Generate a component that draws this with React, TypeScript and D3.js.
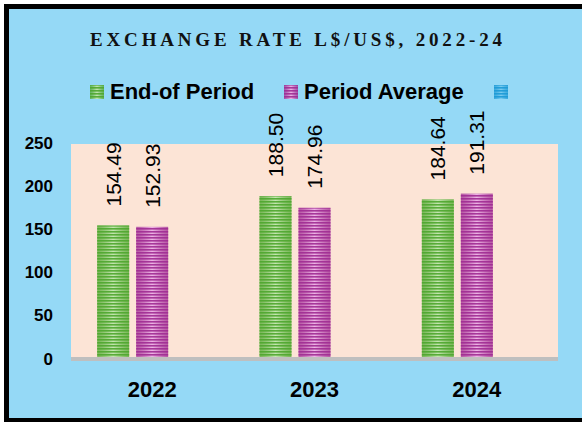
import React from 'react';
import * as d3 from 'd3';

const years = ['2022', '2023', '2024'];
const seriesNames = ['End-of Period', 'Period Average', ''];
const endOfPeriod = [154.49, 188.5, 184.64];
const periodAverage = [152.93, 174.96, 191.31];
const yTicks = [0, 50, 100, 150, 200, 250];

const W = 582;
const H = 422;

// plot area
const left = 71;
const right = 558;
const top = 143;
const bottom = 359;

const palette = [
  { dark: '#4ea72e', light: '#c4e6b0', id: 'g' },
  { dark: '#a02b93', light: '#eeb4e6', id: 'p' },
  { dark: '#1c9ad6', light: '#7ccdf0', id: 'b' },
];

function App() {
  const y = d3.scaleLinear().domain([0, 250]).range([bottom, top]);
  const x0 = d3.scaleBand().domain(years).range([left, right]);
  const x1 = d3
    .scaleBand()
    .domain(seriesNames.map((s, i) => String(i)))
    .range([0, x0.bandwidth()])
    .paddingInner(7 / 39)
    .paddingOuter(0.671);

  const series = [endOfPeriod, periodAverage];

  const sans = '"Liberation Sans", Arial, sans-serif';

  // legend positions
  const legend = [
    { sx: 90, tx: 110, label: seriesNames[0] },
    { sx: 284, tx: 304, label: seriesNames[1] },
    { sx: 494, tx: 0, label: seriesNames[2] },
  ];

  return (
    <div style={{ position: 'absolute', left: 0, top: 0 }}>
      <svg width={W} height={H} style={{ display: 'block' }}>
        <defs>
          {palette.map((c) => (
            <linearGradient key={c.id} id={'grad-' + c.id} x1="0" x2="1" y1="0" y2="0">
              <stop offset="0" stopColor={c.dark} stopOpacity={0.75} />
              <stop offset="0.5" stopColor={c.light} />
              <stop offset="1" stopColor={c.dark} stopOpacity={0.75} />
            </linearGradient>
          ))}
          {palette.map((c) => (
            <pattern
              key={c.id}
              id={'stripe-' + c.id}
              patternUnits="userSpaceOnUse"
              width={4}
              height={3}
            >
              <rect x={0} y={0} width={4} height={1.6} fill={c.dark} opacity={0.9} />
            </pattern>
          ))}
        </defs>

        {/* background + frame */}
        <rect x={0} y={0} width={W} height={H} fill="#fff" />
        <rect x={6.5} y={6.5} width={W + 20} height={414} fill="#95d9f6" stroke="#000" strokeWidth={5} />

        {/* title */}
        <text
          x={90}
          y={46}
          textLength={412}
          lengthAdjust="spacing"
          fontFamily='"Liberation Serif", "Times New Roman", serif'
          fontWeight="bold"
          fontSize={19}
          fill="#111"
        >
          EXCHANGE RATE L$/US$, 2022-24
        </text>

        {/* legend */}
        {legend.map((l, i) => (
          <g key={i}>
            <rect x={l.sx} y={85} width={14} height={14} fill={`url(#grad-${palette[i].id})`} />
            <rect x={l.sx} y={85} width={14} height={14} fill={`url(#stripe-${palette[i].id})`} />
            {l.label && (
              <text x={l.tx} y={99} fontFamily={sans} fontWeight="bold" fontSize={22} fill="#000">
                {l.label}
              </text>
            )}
          </g>
        ))}

        {/* plot area */}
        <rect x={left} y={y(250) + 1} width={right - left} height={y(0) - y(250) - 1} fill="#fce4d6" />
        <line x1={left} x2={right} y1={y(0)} y2={y(0)} stroke="#bfbfbf" strokeWidth={4} />

        {/* y axis labels */}
        {yTicks.map((t) => (
          <text
            key={t}
            x={53}
            y={y(t)}
            textAnchor="end"
            dominantBaseline="central"
            fontFamily={sans}
            fontWeight="bold"
            fontSize={17}
            fill="#000"
          >
            {t}
          </text>
        ))}

        {/* bars */}
        {years.map((yr, ci) => (
          <g key={yr} transform={`translate(${x0(yr)},0)`}>
            {series.map((vals, si) => {
              const bx = x1(String(si)) as number;
              const bw = x1.bandwidth();
              const v = vals[ci];
              const by = y(v);
              const bh = y(0) - 2 - by;
              return (
                <g key={si}>
                  <rect x={bx} y={by} width={bw} height={bh} fill={`url(#grad-${palette[si].id})`} />
                  <rect x={bx} y={by} width={bw} height={bh} fill={`url(#stripe-${palette[si].id})`} />
                  <text
                    transform={`translate(${bx + bw / 2},${by - 19}) rotate(-90)`}
                    dominantBaseline="central"
                    fontFamily={sans}
                    fontSize={21}
                    fill="#000"
                  >
                    {v.toFixed(2)}
                  </text>
                </g>
              );
            })}
            <text
              x={x0.bandwidth() / 2}
              y={397}
              textAnchor="middle"
              fontFamily={sans}
              fontWeight="bold"
              fontSize={22}
              fill="#000"
            >
              {yr}
            </text>
          </g>
        ))}
      </svg>
    </div>
  );
}

export default App;
